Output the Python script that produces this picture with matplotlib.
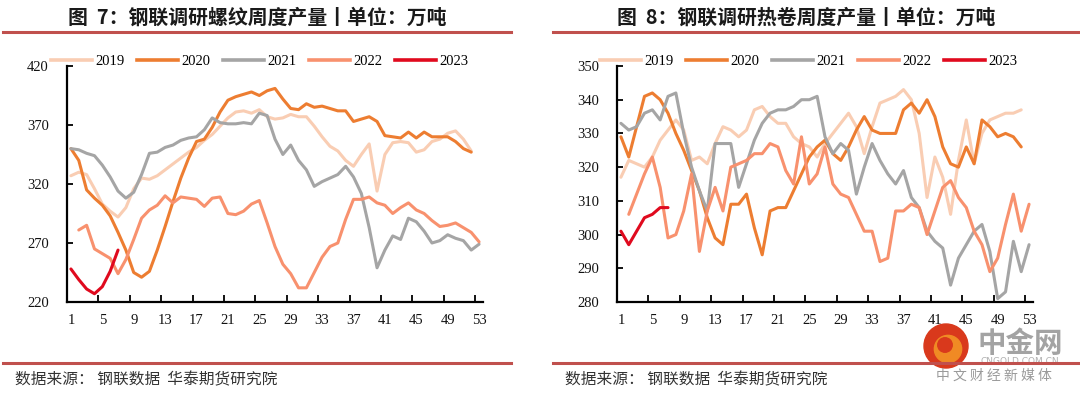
import matplotlib
matplotlib.use("Agg")
import matplotlib.pyplot as plt
import numpy as np
from matplotlib.lines import Line2D
from matplotlib.patches import Circle

# ---------------- data ----------------
weeks = list(range(1, 54))
year_labels = ["2019", "2020", "2021", "2022", "2023"]
xtick_labels = [str(w) for w in range(1, 54, 4)]

# Rebar weekly output (10k tonnes)
rebar_2019 = [327, 330, 328, 316, 303, 297, 292, 300, 316, 325, 324, 327, 332, 337, 342, 347,
              351, 357, 362, 369, 376, 381, 382, 380, 383, 377, 375, 376, 379, 377, 377, 369,
              360, 352, 348, 340, 335, 345, 354, 314, 345, 355, 356, 355, 347, 349, 356, 358,
              363, 365, 358, 348]
rebar_2020 = [350, 340, 315, 308, 302, 293, 279, 264, 245, 241, 246, 264, 284, 305, 325, 342,
              356, 358, 368, 381, 391, 394, 396, 398, 395, 399, 401, 392, 384, 383, 388, 385,
              386, 384, 382, 382, 373, 375, 377, 373, 361, 360, 359, 364, 359, 364, 360, 360,
              360, 356, 350, 347]
rebar_2021 = [350, 349, 346, 344, 336, 326, 314, 308, 313, 328, 346, 347, 351, 353, 357, 359,
              360, 366, 376, 372, 371, 371, 372, 371, 380, 378, 358, 345, 353, 340, 332, 318,
              322, 325, 328, 335, 326, 312, 283, 249, 264, 276, 273, 291, 288, 280, 270, 272,
              277, 274, 272, 264, 269]
rebar_2022 = [None, 281, 285, 265, 261, 257, 244, 256, 273, 291, 298, 302, 310, 304, 309, 308,
              307, 301, 308, 309, 295, 294, 297, 303, 306, 287, 267, 252, 244, 232, 232, 245,
              258, 267, 270, 290, 307, 307, 309, 304, 302, 295, 300, 304, 298, 295, 289, 284,
              285, 287, 283, 279, 271]
rebar_2023 = [248, 239, 231, 227, 233, 246, 264]

# Hot-rolled coil weekly output (10k tonnes)
hrc_2019 = [317, 322, 321, 320, 323, 328, 331, 334, 331, 322, 323, 321, 327, 332, 331, 329,
            331, 337, 338, 335, 333, 333, 329, 327, 326, 323, 327, 330, 333, 336, 332, 324,
            332, 339, 340, 341, 343, 340, 330, 311, 323, 317, 306, 322, 334, 321, 330, 334,
            335, 336, 336, 337]
hrc_2020 = [329, 323, 332, 341, 342, 340, 336, 330, 325, 319, 313, 305, 299, 297, 309, 309,
            312, 302, 294, 307, 308, 308, 313, 318, 323, 326, 328, 324, 322, 326, 331, 335,
            331, 330, 330, 330, 337, 339, 336, 340, 335, 326, 321, 320, 326, 321, 334, 332,
            329, 330, 329, 326]
hrc_2021 = [333, 331, 332, 336, 337, 334, 341, 342, 330, 320, 313, 307, 327, 327, 327, 314,
            321, 328, 333, 336, 337, 337, 338, 340, 340, 341, 329, 324, 327, 325, 312, 320,
            327, 322, 318, 315, 319, 311, 308, 301, 298, 296, 285, 293, 297, 301, 303, 295,
            281, 283, 298, 289, 297]
hrc_2022 = [None, 306, 312, 318, 323, 314, 299, 300, 307, 318, 295, 307, 314, 307, 320, 321,
            322, 324, 324, 327, 326, 319, 315, 329, 315, 318, 326, 315, 312, 311, 306, 301,
            301, 292, 293, 307, 307, 309, 308, 300, 307, 314, 316, 311, 308, 301, 297, 289,
            293, 303, 312, 301, 309]
hrc_2023 = [301, 297, 301, 305, 306, 308, 308]

colors = ["#F9CDB3", "#ED7D31", "#A5A5A5", "#F8916E", "#E00A1E"]

panels = [
    dict(title="图  7：钢联调研螺纹周度产量丨单位：万吨",
         series=[rebar_2019, rebar_2020, rebar_2021, rebar_2022, rebar_2023],
         ylim=(220, 420), yticks=[220, 270, 320, 370, 420]),
    dict(title="图  8：钢联调研热卷周度产量丨单位：万吨",
         series=[hrc_2019, hrc_2020, hrc_2021, hrc_2022, hrc_2023],
         ylim=(280, 350), yticks=[280, 290, 300, 310, 320, 330, 340, 350]),
]

source_text = "数据来源： 钢联数据  华泰期货研究院"

# ---------------- figure ----------------
W, H = 1080, 393
fig = plt.figure(figsize=(W / 100, H / 100), dpi=100)
fig.patch.set_facecolor("white")

cjk = ["Noto Sans CJK SC", "DejaVu Sans"]
serif = ["Liberation Serif", "DejaVu Serif"]
rule_color = "#C0504D"

def fx(px):
    return px / W

def fy(py):
    return 1 - py / H

axes_px = [(67, 483), (617, 1033)]
title_cx = [257, 806]
rule_x = [(3, 511), (553, 1080)]
legend_cx = [260, 809]
source_x = [15, 565]

for i, p in enumerate(panels):
    x0, x1 = axes_px[i]
    ax = fig.add_axes([fx(x0), fy(302), fx(x1 - x0), (302 - 66) / H])
    for s, c, lab in zip(p["series"], colors, year_labels):
        y = np.array([np.nan if v is None else v for v in s], dtype=float)
        ax.plot(weeks[:len(y)], y, color=c, lw=2.2, solid_joinstyle="round",
                solid_capstyle="round", label=lab)
    ax.set_xlim(0.5, 53.5)
    ax.set_ylim(*p["ylim"])
    ax.set_yticks(p["yticks"])
    ax.set_xticks(list(range(1, 54, 4)))
    ax.set_xticklabels(xtick_labels)
    ax.set_xticks([w + 0.5 for w in range(4, 53, 4)], minor=True)
    for side in ("top", "right"):
        ax.spines[side].set_visible(False)
    for side in ("left", "bottom"):
        ax.spines[side].set_linewidth(1.6)
        ax.spines[side].set_color("black")
    ax.tick_params(axis="x", which="major", length=0, pad=9, labelsize=10.5)
    ax.tick_params(axis="x", which="minor", direction="in", length=5, width=1.3)
    ax.tick_params(axis="y", which="major", direction="in", length=4, width=1.3,
                   pad=13, labelsize=10.5)
    for lbl in ax.get_xticklabels() + ax.get_yticklabels():
        lbl.set_fontfamily(serif)
        lbl.set_color("#111111")

    handles = [Line2D([], [], color=c, lw=2.6) for c in colors]
    ax.legend(handles, year_labels, loc="center",
              bbox_to_anchor=(fx(legend_cx[i]), fy(61)), bbox_transform=fig.transFigure,
              ncol=5, frameon=False, handlelength=2.8, handletextpad=0.25,
              columnspacing=0.85, prop={"family": serif, "size": 10.5})

    fig.text(fx(title_cx[i]), fy(17), p["title"], ha="center", va="center",
             fontsize=14.3, fontweight="bold", family=cjk, color="#1a1a1a")
    rx0, rx1 = rule_x[i]
    fig.add_artist(Line2D([fx(rx0), fx(rx1)], [fy(32), fy(32)], color=rule_color, lw=2.2))
    fig.add_artist(Line2D([fx(rx0), fx(rx1)], [fy(363), fy(363)], color=rule_color, lw=2.2))
    fig.text(fx(source_x[i]), fy(380), source_text, ha="left", va="center",
             fontsize=11.3, family=cjk, color="#333333")

# watermark
cx, cy, r = 946, 346, 22
wm = fig.add_axes([0, 0, 1, 1], facecolor="none")
wm.set_xlim(0, W)
wm.set_ylim(H, 0)
wm.axis("off")
wm.add_patch(Circle((cx, cy), r, color="#D9391C", zorder=5))
wm.add_patch(Circle((cx + 2, cy + 3), r * 0.62, color="#F08A24", zorder=6))
wm.add_patch(Circle((cx - 1, cy - 1), r * 0.33, color="#D9391C", zorder=7))
wm.text(1020, 344, "中金网", ha="center", va="center", fontsize=20.5, fontweight="bold",
        family=cjk, color="#A3A3A3", zorder=8)
wm.text(1020, 362, "CNGOLD.COM.CN", ha="center", va="center", fontsize=6.5,
        family=["DejaVu Sans"], color="#B0B0B0", zorder=8)
wm.text(994, 376, "中 文 财 经 新 媒 体", ha="center", va="center", fontsize=10,
        family=cjk, color="#9A9A9A", zorder=8)

fig.savefig("out.png", dpi=100, facecolor="white")
